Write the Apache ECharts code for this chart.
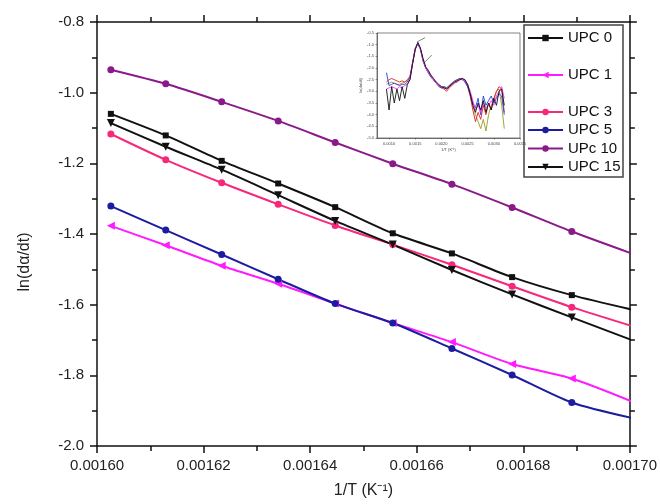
<!DOCTYPE html>
<html>
<head>
<meta charset="utf-8">
<script src="https://cdn.jsdelivr.net/npm/echarts@6/dist/echarts.min.js"></script>
<style>
html,body{margin:0;padding:0;background:#fff;}
#chart{width:660px;height:504px;}
</style>
</head>
<body>
<div id="chart"></div>
<script>
// ---- main chart data (x = 1/T in K^-1) ----
var xVals = [0.0016026, 0.0016129, 0.0016234, 0.0016340, 0.0016447, 0.0016555, 0.0016666, 0.0016779, 0.0016891, 0.0017007];
var upc0  = [-1.060, -1.121, -1.193, -1.257, -1.324, -1.398, -1.455, -1.522, -1.573, -1.615];
var upc1  = [-1.377, -1.432, -1.490, -1.541, -1.597, -1.652, -1.706, -1.768, -1.809, -1.876];
var upc3  = [-1.117, -1.190, -1.255, -1.316, -1.376, -1.430, -1.487, -1.548, -1.607, -1.662];
var upc5  = [-1.321, -1.389, -1.458, -1.528, -1.597, -1.652, -1.724, -1.799, -1.877, -1.922];
var upc10 = [-0.935, -0.975, -1.026, -1.080, -1.141, -1.201, -1.259, -1.325, -1.393, -1.457];
var upc15 = [-1.086, -1.153, -1.218, -1.290, -1.363, -1.430, -1.502, -1.571, -1.636, -1.702];
var seriesNames = ['UPC 0', 'UPC 1', 'UPC 3', 'UPC 5', 'UPc 10', 'UPC 15'];

// ---- inset data ----
var insetX = [0.00095,0.00100,0.00105,0.00110,0.00115,0.00120,0.00125,0.00130,0.00135,0.00140,
              0.00145,0.00150,0.00155,0.00160,0.00165,0.00170,0.00175,0.00180,0.00185,0.00190,
              0.00195,0.00200,0.00205,0.00210,0.00215,0.00220,0.00225,0.00230,0.00235,0.00240,
              0.00245,0.00250,0.00255,0.00260,0.00265,0.00270,0.00275,0.00280,0.00285,0.00290,
              0.00295,0.00300,0.00305,0.00310,0.00315,0.00320];
var insetBlack = [-2.9,-3.8,-2.8,-3.5,-2.9,-3.4,-2.8,-3.3,-2.7,-2.5,-1.8,-1.2,-0.9,-1.15,-1.6,-1.95,-2.1,-2.3,-2.45,-2.6,
                  -2.7,-2.8,-2.85,-2.9,-2.8,-2.7,-2.6,-2.55,-2.5,-2.45,-2.5,-2.7,-3.1,-3.6,-3.9,-3.5,-3.8,-3.4,-3.9,-3.5,
                  -3.8,-3.3,-3.6,-3.0,-2.9,-3.6];
var insetRed = [-2.6,-2.5,-2.45,-2.5,-2.55,-2.6,-2.55,-2.6,-2.5,-2.35,-1.75,-1.15,-0.95,-1.2,-1.65,-2.0,-2.15,-2.35,-2.5,-2.65,
                -2.75,-2.85,-2.9,-3.0,-2.85,-2.75,-2.65,-2.6,-2.5,-2.45,-2.55,-2.75,-3.2,-3.8,-4.3,-3.9,-4.2,-3.6,-4.0,-3.5,
                -3.8,-3.3,-3.0,-2.8,-2.9,-3.9];
var insetBlue = [-2.2,-2.75,-2.7,-2.65,-2.7,-2.75,-2.7,-2.7,-2.6,-2.4,-1.8,-1.2,-0.95,-1.2,-1.7,-2.0,-2.2,-2.4,-2.5,-2.65,
                 -2.8,-2.85,-2.8,-2.85,-2.75,-2.65,-2.55,-2.5,-2.45,-2.5,-2.6,-2.8,-3.1,-3.5,-3.7,-3.3,-4.0,-3.2,-3.6,-3.4,
                 -3.2,-3.5,-3.3,-3.1,-3.2,-4.0];
var insetMagenta = [-2.9,-2.85,-2.8,-2.85,-2.9,-2.8,-2.85,-2.75,-2.7,-2.5,-1.8,-1.15,-0.92,-1.2,-1.7,-2.0,-2.2,-2.35,-2.5,-2.65,
                    -2.75,-2.8,-2.85,-2.9,-2.8,-2.7,-2.6,-2.55,-2.5,-2.5,-2.55,-2.7,-3.0,-3.4,-3.8,-3.6,-3.9,-3.5,-3.7,-3.6,
                    -3.4,-3.6,-3.2,-3.0,-2.8,-3.3];
var insetOlive = [-2.7,-2.65,-2.6,-2.65,-2.7,-2.7,-2.65,-2.6,-2.55,-2.4,-1.8,-1.2,-0.95,-1.2,-1.7,-2.0,-2.2,-2.4,-2.5,-2.65,
                  -2.75,-2.8,-2.8,-2.85,-2.75,-2.65,-2.6,-2.5,-2.45,-2.45,-2.6,-2.8,-3.2,-3.6,-4.0,-4.3,-4.6,-4.2,-4.7,-4.0,
                  -3.6,-3.4,-3.0,-2.9,-3.6,-4.6];
var tangent1X = [0.001534, 0.001687];
var tangent1Y = [-0.885, -0.70];
var tangent2X = [0.001687, 0.001815];
var tangent2Y = [-1.74, -1.45];
var insetXTicks = [0.0010, 0.0015, 0.0020, 0.0025, 0.0030, 0.0035];

function pairs(xs, ys) { return xs.map(function (x, i) { return [x, ys[i]]; }); }

var FONT = '"Liberation Sans", Arial, sans-serif';
var chart = echarts.init(document.getElementById('chart'), null, {renderer: 'canvas'});

function mainSeries(name, ys, color, symbol, size, rotate) {
  return {
    name: name, type: 'line', xAxisIndex: 0, yAxisIndex: 0,
    data: pairs(xVals, ys), clip: true, smooth: 0.25,
    symbol: symbol, symbolSize: size, symbolRotate: rotate || 0, showSymbol: true,
    lineStyle: {color: color, width: 2}, itemStyle: {color: color},
    emphasis: {disabled: true}, z: 3
  };
}
function insetSeries(ys, color, w) {
  return {
    type: 'line', xAxisIndex: 2, yAxisIndex: 2, data: pairs(insetX, ys), clip: true,
    symbol: 'none', lineStyle: {color: color, width: w || 0.9}, silent: true, z: 2
  };
}
var legendText = {fontSize: 15, color: '#111', fontFamily: FONT, lineHeight: 16};
var legendCenters = [38, 75, 112, 130, 148.5, 167];
var legends = seriesNames.map(function (n, i) {
  return {data: [n], left: 527, top: legendCenters[i] - 8, padding: 0, itemWidth: 35, itemHeight: 8,
          itemGap: 0, textStyle: legendText};
});

var option = {
  backgroundColor: '#fff',
  animation: false,
  grid: [
    {left: 97, top: 22, width: 533, height: 431, containLabel: false},
    {left: 377, top: 33, width: 143, height: 105, show: true, borderColor: '#333', borderWidth: 0.6, backgroundColor: 'transparent'}
  ],
  legend: legends,
  xAxis: [
    {
      gridIndex: 0, type: 'value', position: 'bottom', min: 0.0016, max: 0.0017, interval: 0.00002,
      axisLine: {show: true, onZero: false, lineStyle: {color: '#111', width: 1.5}},
      axisTick: {show: true, inside: false, length: 7, lineStyle: {color: '#111', width: 1.5}},
      minorTick: {show: true, splitNumber: 2, length: 5, lineStyle: {color: '#111', width: 1.5}},
      axisLabel: {margin: 12, fontSize: 15, color: '#222', fontFamily: FONT, formatter: function (v) { return v.toFixed(5); }},
      splitLine: {show: false},
      name: '1/T (K⁻¹)', nameLocation: 'middle', nameGap: 37,
      nameTextStyle: {fontSize: 16, color: '#222', fontFamily: FONT}
    },
    {
      gridIndex: 0, type: 'value', position: 'top', min: 0.0016, max: 0.0017, interval: 0.00002,
      axisLine: {show: true, onZero: false, lineStyle: {color: '#111', width: 1.5}},
      axisTick: {show: true, inside: false, length: 7, lineStyle: {color: '#111', width: 1.5}},
      minorTick: {show: true, splitNumber: 2, length: 5, lineStyle: {color: '#111', width: 1.5}},
      axisLabel: {show: false}, splitLine: {show: false}
    },
    {
      gridIndex: 1, type: 'value', min: 0.00077, max: 0.0035,
      axisLine: {show: true, onZero: false, lineStyle: {color: '#333', width: 0.6}},
      axisTick: {show: true, inside: false, length: 1.5, customValues: insetXTicks, lineStyle: {color: '#333', width: 0.5}},
      axisLabel: {fontSize: 4, margin: 4, color: '#444', fontFamily: FONT, customValues: insetXTicks, formatter: function (v) { return v.toFixed(4); }},
      splitLine: {show: false},
      name: '1/T (K⁻¹)', nameLocation: 'middle', nameGap: 10, nameTextStyle: {fontSize: 4, color: '#444', fontFamily: FONT}
    }
  ],
  yAxis: [
    {
      gridIndex: 0, type: 'value', position: 'left', min: -2.0, max: -0.8, interval: 0.2,
      axisLine: {show: true, onZero: false, lineStyle: {color: '#111', width: 1.5}},
      axisTick: {show: true, inside: false, length: 7, lineStyle: {color: '#111', width: 1.5}},
      minorTick: {show: true, splitNumber: 2, length: 5, lineStyle: {color: '#111', width: 1.5}},
      axisLabel: {margin: 13, fontSize: 15, color: '#222', fontFamily: FONT, formatter: function (v) { return v.toFixed(1); }},
      splitLine: {show: false},
      name: 'ln(dα/dt)', nameLocation: 'middle', nameGap: 64, nameRotate: 90,
      nameTextStyle: {fontSize: 16, color: '#222', fontFamily: FONT, padding: [0, 56, 0, 0]}
    },
    {
      gridIndex: 0, type: 'value', position: 'right', min: -2.0, max: -0.8, interval: 0.2,
      axisLine: {show: true, onZero: false, lineStyle: {color: '#111', width: 1.5}},
      axisTick: {show: true, inside: false, length: 7, lineStyle: {color: '#111', width: 1.5}},
      minorTick: {show: true, splitNumber: 2, length: 5, lineStyle: {color: '#111', width: 1.5}},
      axisLabel: {show: false}, splitLine: {show: false}
    },
    {
      gridIndex: 1, type: 'value', min: -5.0, max: -0.5, interval: 0.5,
      axisLine: {show: true, onZero: false, lineStyle: {color: '#333', width: 0.6}},
      axisTick: {show: true, inside: false, length: 1.5, lineStyle: {color: '#333', width: 0.5}},
      axisLabel: {fontSize: 4, margin: 3, color: '#444', fontFamily: FONT, formatter: function (v) { return v.toFixed(1); }},
      splitLine: {show: false},
      name: 'ln(dα/dt)', nameLocation: 'middle', nameGap: 13, nameRotate: 90, nameTextStyle: {fontSize: 4, color: '#444', fontFamily: FONT}
    }
  ],
  graphic: [
    {type: 'rect', shape: {x: 524, y: 25, width: 99, height: 152}, style: {fill: 'none', stroke: '#444', lineWidth: 1.5}, silent: true, z: 10}
  ],
  series: [
    mainSeries('UPC 0', upc0, '#111111', 'rect', 6),
    mainSeries('UPC 1', upc1, '#ff1aff', 'triangle', 8, 90),
    mainSeries('UPC 3', upc3, '#f7287a', 'circle', 7),
    mainSeries('UPC 5', upc5, '#1c1ca0', 'circle', 7),
    mainSeries('UPc 10', upc10, '#8a1a8a', 'circle', 7),
    mainSeries('UPC 15', upc15, '#111111', 'triangle', 8, 180),
    insetSeries(insetOlive, '#9a9a20'),
    insetSeries(insetRed, '#e02020'),
    insetSeries(insetBlue, '#2040e0'),
    insetSeries(insetMagenta, '#ff30ff'),
    insetSeries(insetBlack, '#111111'),
    {type: 'line', xAxisIndex: 2, yAxisIndex: 2, data: pairs(tangent1X, tangent1Y), symbol: 'none', lineStyle: {color: '#333', width: 0.6}, silent: true},
    {type: 'line', xAxisIndex: 2, yAxisIndex: 2, data: pairs(tangent2X, tangent2Y), symbol: 'none', lineStyle: {color: '#333', width: 0.6}, silent: true}
  ]
};
chart.setOption(option);
</script>
</body>
</html>
